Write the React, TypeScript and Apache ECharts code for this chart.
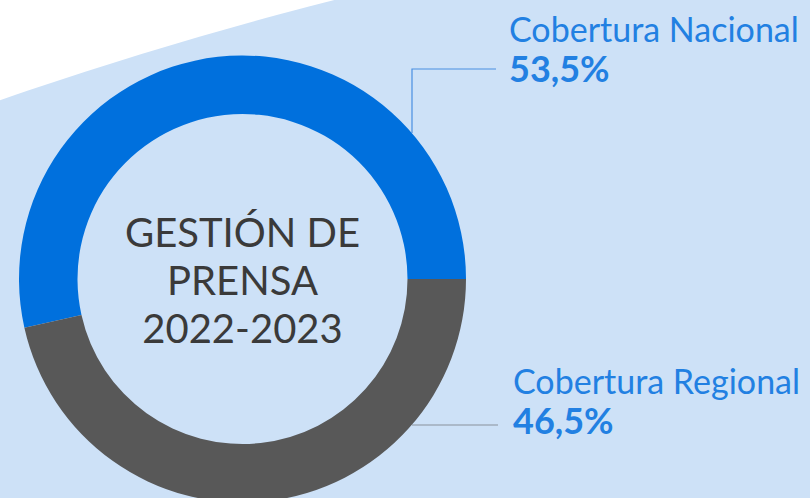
import React, { useEffect, useRef } from "react";
import * as echarts from "echarts";

const categories = ["Cobertura Nacional", "Cobertura Regional"];
const values = [53.5, 46.5];
const centerLines = ["GESTIÓN DE", "PRENSA", "2022-2023"];

const colors = ["#0070dd", "#585858"];
const lineColors = ["#4a8fe2", "#8a929c"];
const FONT = "Lato";

export default function App() {
  const ref = useRef<HTMLDivElement>(null);
  useEffect(() => {
    document.body.style.margin = "0";
    const chart = echarts.init(ref.current!, null, { renderer: "svg" });
    const cx = 242.5;
    const cy = 279;
    const labelPos = [
      { x: 509, y: 8, pts: [[412, 133], [412, 69], [496, 69]] },
      { x: 513, y: 360, pts: [[412, 425], [498, 425]] },
    ];
    chart.setOption({
      animation: false,
      backgroundColor: "#ffffff",
      graphic: [
        {
          type: "circle",
          z: 0,
          silent: true,
          shape: { cx: 1316, cy: 3882, r: 4004 },
          style: { fill: "#cde1f7" },
        },
        ...centerLines.map((t, i) => ({
          type: "text",
          z: 10,
          x: cx,
          y: 232 + i * 48,
          style: {
            text: t,
            fill: "#3a3a3a",
            font: `400 40px ${FONT}`,
            align: "center",
            verticalAlign: "middle",
          },
        })),
      ],
      series: [
        {
          type: "pie",
          center: [cx, cy],
          radius: [165, 223.5],
          startAngle: 0,
          clockwise: false,
          avoidLabelOverlap: false,
          data: categories.map((name, i) => ({
            name,
            value: values[i],
            itemStyle: { color: colors[i] },
            labelLine: { lineStyle: { color: lineColors[i], width: 1.2 } },
          })),
          label: {
            show: true,
            formatter: (p: any) =>
              `{n|${p.name}}\n{v|${p.value.toFixed(1).replace(".", ",")}%}`,
            rich: {
              n: { fontFamily: FONT, fontSize: 34, color: "#2280e2", lineHeight: 40 },
              v: { fontFamily: FONT, fontSize: 36, fontWeight: "bold", color: "#2280e2", lineHeight: 40 },
            },
          },
          labelLine: { show: true, length: 10, length2: 10 },
          labelLayout: (params: any) => {
            const lp = labelPos[params.dataIndex];
            return {
              x: lp.x,
              y: lp.y,
              align: "left",
              verticalAlign: "top",
              labelLinePoints: lp.pts,
            };
          },
          emphasis: { disabled: true },
        },
      ],
    });
    return () => chart.dispose();
  }, []);
  return <div ref={ref} style={{ width: 810, height: 498 }} />;
}
